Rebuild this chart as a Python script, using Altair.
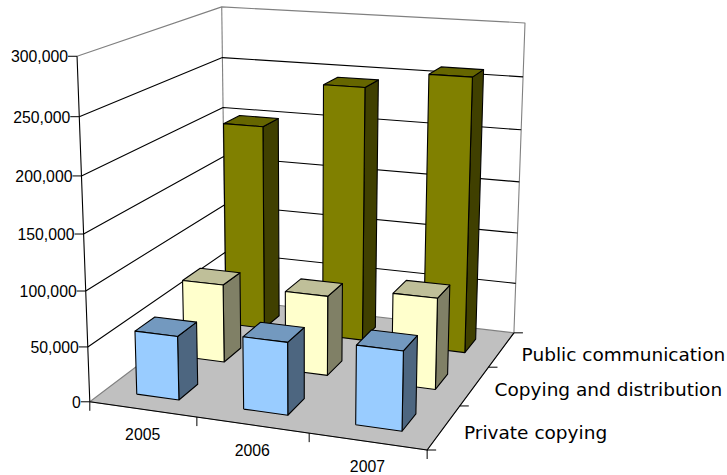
import altair as alt
import numpy as np
import pandas as pd

# Chart content
years = ["2005", "2006", "2007"]
series = ["Private copying", "Copying and distribution", "Public communication"]
private_copying = [58000, 65000, 70000]
copying_distribution = [74000, 74500, 84000]
public_communication = [200000, 244000, 260000]
value_ticks = [0, 50000, 100000, 150000, 200000, 250000, 300000]
value_max = 300000

# Face colours per series: front, side, top
face_colours = [
    ("#99CCFF", "#4D6680", "#7399BF"),
    ("#FFFFCC", "#808066", "#BFBF99"),
    ("#808000", "#404000", "#666600"),
]

# Perspective camera of the box: unit cube corners and edge divisions to canvas pixels.
# The fourth figure of each cube point is its weight in the least-squares fit.
box_world = [(0, 0, 0, 6), (1, 0, 0, 6), (1, 1, 0, 6), (0, 1, 0, 1), (0, 0, 1, 4), (0, 1, 1, 4), (1, 1, 1, 4),
             (1/3, 0, 0, 2), (2/3, 0, 0, 2), (1, 1/3, 0, 2), (1, 2/3, 0, 2),
             (0, 0, 5/6, 1), (0, 0, 4/6, 1), (0, 0, 3/6, 1), (0, 0, 2/6, 1), (0, 0, 1/6, 2),
             (1, 1, 5/6, 1), (1, 1, 4/6, 1), (1, 1, 3/6, 1), (1, 1, 2/6, 1), (1, 1, 1/6, 1),
             (0, 1, 5/6, 1), (0, 1, 4/6, 1), (0, 1, 3/6, 1), (0, 1, 2/6, 1)]
box_canvas = [(90, 402), (427, 450), (514, 333), (223, 292), (77, 56), (222, 7), (525, 23),
              (197, 417), (309, 433), (460, 405), (489, 367),
              (79, 117), (81, 176), (83, 234), (85.5, 291), (87.5, 347),
              (523, 77), (521, 129), (519, 181), (517, 233), (516, 283),
              (222, 58), (222, 108), (222, 158), (222.5, 205)]

rows_a, rows_b = [], []
for (X, Y, Z, k), (u, v) in zip(box_world, box_canvas):
    rows_a.append([k * c for c in (X, Y, Z, 1, 0, 0, 0, 0, -u * X, -u * Y, -u * Z)]); rows_b.append(k * u)
    rows_a.append([k * c for c in (0, 0, 0, 0, X, Y, Z, 1, -v * X, -v * Y, -v * Z)]); rows_b.append(k * v)
camera = np.append(np.linalg.lstsq(np.array(rows_a, float), np.array(rows_b, float), rcond=None)[0], 1).reshape(3, 4)


def project(x, y, z):
    u, v, w = camera @ np.array([x, y, z, 1.0])
    return float(u / w), float(v / w)


paths = []
path_id = [0]


def add_path(points, stroke, fill="none", closed=False):
    pts = list(points) + ([points[0]] if closed else [])
    for i, (x, y, z) in enumerate(pts):
        u, v = project(x, y, z)
        paths.append({"path": path_id[0], "step": i, "u": u, "v": v, "fill": fill, "stroke": stroke})
    path_id[0] += 1


# Floor and wall frame
add_path([(0, 0, 0), (1, 0, 0), (1, 1, 0), (0, 1, 0)], "#808080", "#C0C0C0", closed=True)
add_path([(0, 0, 1), (0, 1, 1), (1, 1, 1), (1, 1, 0)], "#808080")
add_path([(0, 1, 1), (0, 1, 0)], "#808080")

# Gridlines along the left and back walls
for t in value_ticks[1:-1]:
    z = t / value_max
    add_path([(0, 0, z), (0, 1, z), (1, 1, z)], "#000000")

# Axis lines
add_path([(0, 0, 1), (0, 0, 0), (1, 0, 0), (1, 1, 0)], "#000000")

# Bars, back row first: side, top, then front face
bar_fraction = 0.4
all_values = [private_copying, copying_distribution, public_communication]
for j in reversed(range(len(series))):
    for i in range(len(years)):
        z = all_values[j][i] / value_max
        x0 = (i + (1 - bar_fraction) / 2) / 3
        x1 = (i + (1 + bar_fraction) / 2) / 3
        y0 = (j + (1 - bar_fraction) / 2) / 3
        y1 = (j + (1 + bar_fraction) / 2) / 3
        front, side, top = face_colours[j]
        add_path([(x1, y0, 0), (x1, y1, 0), (x1, y1, z), (x1, y0, z)], "#000000", side, closed=True)
        add_path([(x0, y0, z), (x1, y0, z), (x1, y1, z), (x0, y1, z)], "#000000", top, closed=True)
        add_path([(x0, y0, 0), (x1, y0, 0), (x1, y0, z), (x0, y0, z)], "#000000", front, closed=True)

# Tick marks are short screen-aligned strokes anchored on the projected axis positions
tick = 9.0
tick_rows = []
for t in value_ticks:
    u, v = project(0, 0, t / value_max)
    tick_rows.append({"u": u - tick, "v": v, "u2": u, "v2": v})
for i in range(len(years) + 1):
    u, v = project(i / 3, 0, 0)
    tick_rows.append({"u": u, "v": v, "u2": u, "v2": v + tick})
for j in range(len(series) + 1):
    u, v = project(1, j / 3, 0)
    tick_rows.append({"u": u, "v": v, "u2": u + tick, "v2": v})

value_labels = []
for t in value_ticks:
    u, v = project(0, 0, t / value_max)
    value_labels.append({"u": u - tick, "v": v + 1, "label": f"{t:,}"})
year_labels = []
for i, y in enumerate(years):
    u, v = project((i + .5) / 3, 0, 0)
    year_labels.append({"u": u, "v": v + 26, "label": y})
series_labels = []
series_dy = [5.5, 4, 5]
for j, s in enumerate(series):
    u, v = project(1, (j + .5) / 3, 0)
    series_labels.append({"u": u + 20, "v": v + series_dy[j], "label": s})

x_enc = alt.X("u:Q", scale=alt.Scale(domain=[0, 727], nice=False, zero=False), axis=None)
y_enc = alt.Y("v:Q", scale=alt.Scale(domain=[475, 0], nice=False, zero=False), axis=None)

shapes = alt.Chart(pd.DataFrame(paths)).mark_line(strokeWidth=1.1, strokeJoin="round").encode(
    x=x_enc, y=y_enc,
    detail="path:N",
    order="step:Q",
    fill=alt.Fill("fill:N", scale=None),
    stroke=alt.Stroke("stroke:N", scale=None),
)
ticks = alt.Chart(pd.DataFrame(tick_rows)).mark_rule(color="#000000", strokeWidth=1).encode(
    x=x_enc, y=y_enc, x2="u2:Q", y2="v2:Q"
)
value_text = alt.Chart(pd.DataFrame(value_labels)).mark_text(
    align="right", baseline="middle", font="Liberation Sans", fontSize=15.8, color="#000000"
).encode(x=x_enc, y=y_enc, text="label:N")
year_text = alt.Chart(pd.DataFrame(year_labels)).mark_text(
    align="center", baseline="middle", font="Liberation Sans", fontSize=15.8, color="#000000"
).encode(x=x_enc, y=y_enc, text="label:N")
series_text = alt.Chart(pd.DataFrame(series_labels)).mark_text(
    align="left", baseline="middle", font="DejaVu Sans", fontSize=18.5, color="#000000"
).encode(x=x_enc, y=y_enc, text="label:N")

chart = alt.layer(shapes, ticks, value_text, year_text, series_text).properties(
    width=727, height=475, padding=0, background="#FFFFFF",
    autosize=alt.AutoSizeParams(type="none"),
).configure_view(strokeWidth=0)

chart.save("out.html", embed_options={"renderer": "svg", "actions": False})
